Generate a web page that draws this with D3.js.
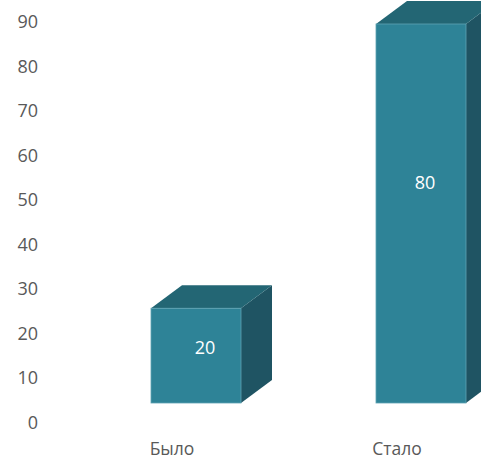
<!DOCTYPE html>
<html><head><meta charset="utf-8">
<script src="https://cdn.jsdelivr.net/npm/d3@7"></script>
<style>html,body{margin:0;padding:0;background:#fff;}svg{display:block;}</style>
</head><body>
<svg id="c" width="481" height="460"></svg>
<script>
const categories = ["Было", "Стало"];
const values = [20, 80];
const tickValues = [0, 10, 20, 30, 40, 50, 60, 70, 80, 90];

const svg = d3.select("#c");
const font = "'Open Sans', 'Noto Sans', sans-serif";
const depthX = 31, depthY = -23;

// axis scale (back wall)
const yAxis = d3.scaleLinear().domain([0, 90]).range([422, 21.5]);
// front-face scale of the bars
const yBar = d3.scaleLinear().domain([0, 80]).range([403, 24]);
const x = d3.scaleBand().domain(categories).range([83.5, 533.5]).paddingInner(0.6).paddingOuter(0.3);

const axis = d3.axisLeft(yAxis).tickValues(tickValues).tickSize(0).tickPadding(0);
const ag = svg.append("g").attr("transform", "translate(38,0)").call(axis);
ag.select(".domain").remove();
ag.selectAll("text").attr("font-family", font).attr("font-size", 18).attr("fill", "#595959").attr("dy", "0.35em");

const data = categories.map((c, i) => ({c, v: values[i]}));
const g = svg.append("g");
data.forEach(d => {
  const x0 = x(d.c), x1 = x0 + x.bandwidth();
  const yt = yBar(d.v), yb = yBar(0);
  // side face
  g.append("polygon")
    .attr("points", [[x1, yb], [x1 + depthX, yb + depthY], [x1 + depthX, yt + depthY], [x1, yt]].map(p => p.join(",")).join(" "))
    .attr("fill", "#1F5463");
  // top face
  g.append("polygon")
    .attr("points", [[x0, yt], [x0 + depthX, yt + depthY], [x1 + depthX, yt + depthY], [x1, yt]].map(p => p.join(",")).join(" "))
    .attr("fill", "#236674");
  // front face
  g.append("rect").attr("x", x0).attr("y", yt).attr("width", x.bandwidth()).attr("height", yb - yt)
    .attr("fill", "#2E8397").attr("stroke", "#5FA3B3").attr("stroke-width", 0.8);
  // value label
  g.append("text").attr("x", x0 + x.bandwidth() / 2 + (d.v < 50 ? 9 : 4)).attr("y", yBar(d.v * 0.58))
    .attr("dy", "0.35em").attr("text-anchor", "middle")
    .attr("font-family", font).attr("font-size", 18).attr("fill", "#ffffff").text(d.v);
  // category label
  svg.append("text").attr("x", x0 + x.bandwidth() / 2 - 24).attr("y", 455)
    .attr("text-anchor", "middle").attr("font-family", font).attr("font-size", 17.5).attr("fill", "#595959").text(d.c);
});
</script>
</body></html>
